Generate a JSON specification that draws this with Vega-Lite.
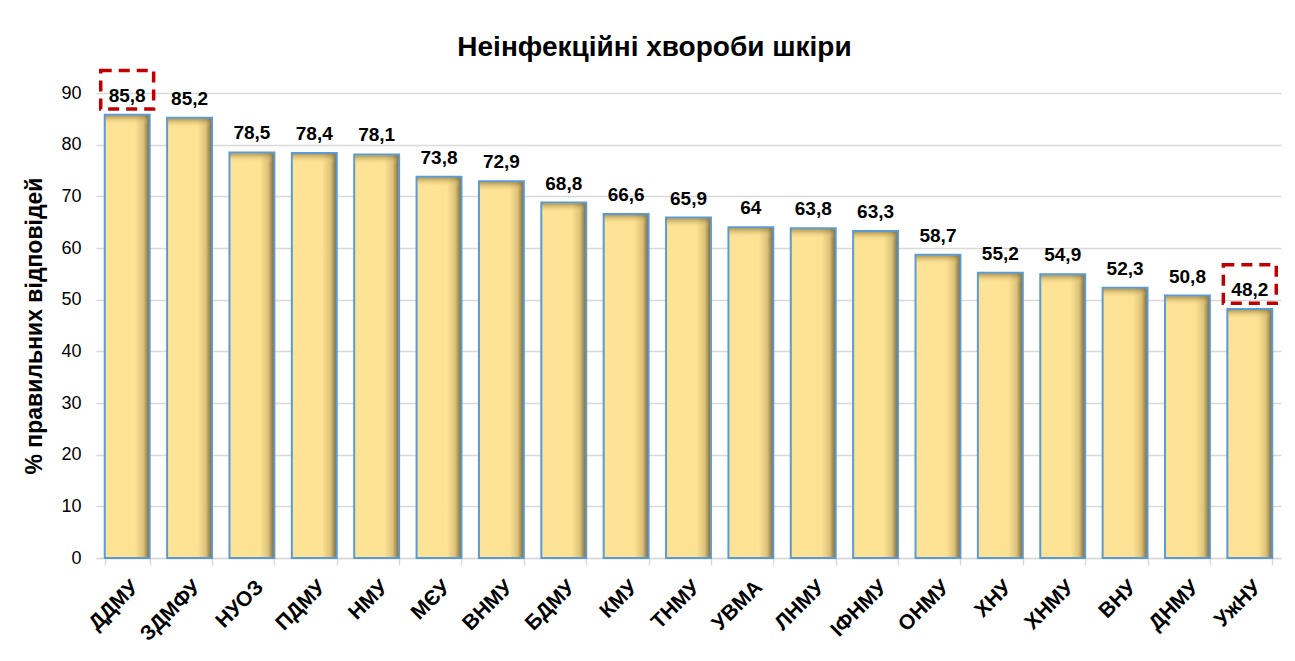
{
  "$schema": "https://vega.github.io/schema/vega-lite/v6.json",
  "autosize": {"type": "none"},
  "padding": {"left": 96, "top": 93, "right": 14, "bottom": 103},
  "width": 1185,
  "height": 465,
  "background": "white",
  "config": {
    "view": {"stroke": null},
    "locale": {"number": {"decimal": ",", "thousands": " ", "grouping": [3], "currency": ["", ""]}},
    "font": "Liberation Sans"
  },
  "title": {
    "text": "Неінфекційні хвороби шкіри",
    "font": "Liberation Sans",
    "fontSize": 28,
    "fontWeight": "bold",
    "color": "#000000",
    "anchor": "middle",
    "frame": "group",
    "dx": -34,
    "offset": 1
  },
  "data": {
    "values": [
      {"school": "ДДМУ", "value": 85.8},
      {"school": "ЗДМФУ", "value": 85.2},
      {"school": "НУОЗ", "value": 78.5},
      {"school": "ПДМУ", "value": 78.4},
      {"school": "НМУ", "value": 78.1},
      {"school": "МЄУ", "value": 73.8},
      {"school": "ВНМУ", "value": 72.9},
      {"school": "БДМУ", "value": 68.8},
      {"school": "КМУ", "value": 66.6},
      {"school": "ТНМУ", "value": 65.9},
      {"school": "УВМА", "value": 64},
      {"school": "ЛНМУ", "value": 63.8},
      {"school": "ІФНМУ", "value": 63.3},
      {"school": "ОНМУ", "value": 58.7},
      {"school": "ХНУ", "value": 55.2},
      {"school": "ХНМУ", "value": 54.9},
      {"school": "ВНУ", "value": 52.3},
      {"school": "ДНМУ", "value": 50.8},
      {"school": "УжНУ", "value": 48.2}
    ]
  },
  "encoding": {
    "x": {
      "field": "school",
      "type": "nominal",
      "sort": null,
      "scale": {"paddingInner": 0.28, "paddingOuter": 0.14},
      "axis": {
        "title": null,
        "labelAngle": -45,
        "labelFont": "Liberation Sans",
        "labelFontSize": 21,
        "labelFontWeight": "bold",
        "labelColor": "#000000",
        "labelPadding": 11,
        "tickBand": "extent",
        "tickColor": "#D9D9D9",
        "tickSize": 7,
        "tickWidth": 1.5,
        "domainColor": "#D9D9D9",
        "domainWidth": 1.5
      }
    },
    "y": {
      "field": "value",
      "type": "quantitative",
      "scale": {"domain": [0, 90], "nice": false},
      "axis": {
        "title": "% правильних відповідей",
        "titleFont": "Liberation Sans",
        "titleFontSize": 23,
        "titleFontWeight": "bold",
        "titleColor": "#000000",
        "titlePadding": 14,
        "values": [0, 10, 20, 30, 40, 50, 60, 70, 80, 90],
        "labelFont": "Liberation Sans",
        "labelFontSize": 18,
        "labelColor": "#000000",
        "labelPadding": 15,
        "ticks": false,
        "domain": false,
        "grid": true,
        "gridColor": "#D9D9D9",
        "gridWidth": 1.5
      }
    }
  },
  "layer": [
    {
      "mark": {
        "type": "bar",
        "stroke": "#5B9BD5",
        "strokeWidth": 2,
        "color": {
          "gradient": "linear",
          "x1": 0, "y1": 0, "x2": 1, "y2": 0,
          "stops": [
            {"offset": 0, "color": "#FDE397"},
            {"offset": 0.68, "color": "#FDE293"},
            {"offset": 0.86, "color": "#DCC27A"},
            {"offset": 1, "color": "#7A6535"}
          ]
        }
      }
    },
    {
      "mark": {
        "type": "tick",
        "orient": "horizontal",
        "size": 42,
        "thickness": 9,
        "yOffset": 5.5,
        "xOffset": -1,
        "opacity": 1,
        "color": {
          "gradient": "linear",
          "x1": 0, "y1": 0, "x2": 0, "y2": 1,
          "stops": [
            {"offset": 0, "color": "rgba(130,105,45,0.6)"},
            {"offset": 1, "color": "rgba(253,226,147,0)"}
          ]
        }
      }
    },
    {
      "mark": {
        "type": "text",
        "baseline": "bottom",
        "dy": -9,
        "font": "Liberation Sans",
        "fontSize": 19,
        "fontWeight": "bold",
        "color": "#000000"
      },
      "encoding": {
        "text": {"field": "value", "type": "quantitative", "format": ".1~f"}
      }
    },
    {
      "transform": [{"filter": "datum.school == 'ДДМУ' || datum.school == 'УжНУ'"}],
      "mark": {
        "type": "point",
        "shape": "M-1,-0.73H1V0.73H-1Z",
        "size": 2800,
        "filled": false,
        "stroke": "#C00000",
        "strokeWidth": 3.5,
        "strokeDash": [11, 7],
        "opacity": 1
      },
      "encoding": {
        "yOffset": {"value": -25}
      }
    }
  ]
}
